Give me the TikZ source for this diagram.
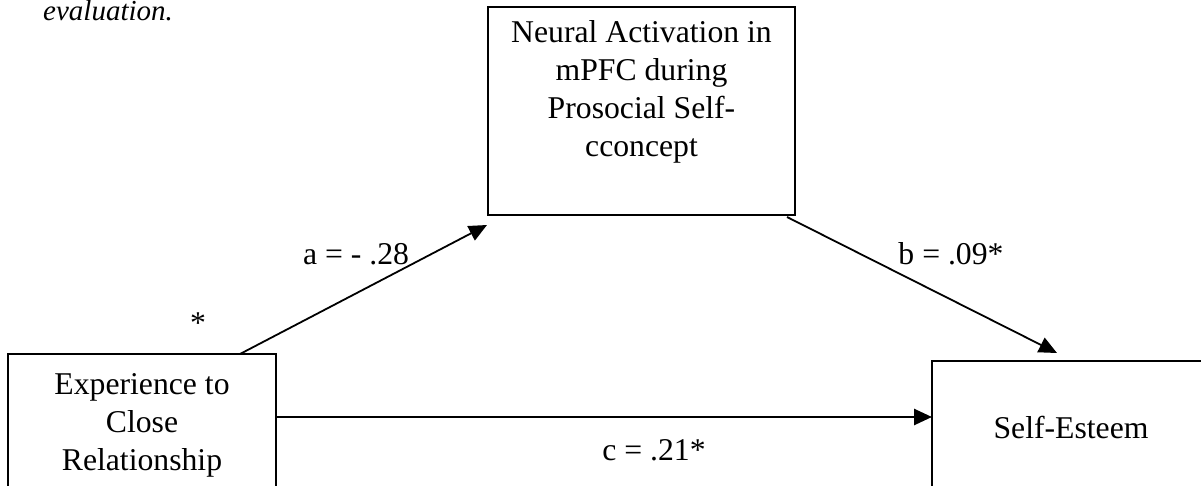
\documentclass[tikz,border=0pt]{standalone}
\usepackage{fontspec}
\setmainfont{Liberation Serif}
\usetikzlibrary{arrows.meta}
\tikzset{
  boxshape/.style={draw, line width=2.2pt, rectangle, inner sep=0pt, outer sep=0pt},
  boxtext/.style={font=\fontsize{31.7pt}{38pt}\selectfont, align=center, inner sep=0pt},
  lbl/.style={font=\fontsize{31.7pt}{38pt}\selectfont, inner sep=0pt, anchor=base},
  arr/.style={-{Triangle[length=18pt,width=16pt]}},
}
\begin{document}
\begin{tikzpicture}[x=1pt,y=-1pt]
\useasboundingbox (0,0) rectangle (1201,486);
\clip (0,0) rectangle (1201,486);
% caption fragment
\node[inner sep=0pt, anchor=base west, font=\fontsize{29pt}{34pt}\selectfont\itshape] (cap) at (43,21) {evaluation.};
% boxes
\node[boxshape, minimum width=307pt, minimum height=208pt] (top) at (641.5,111) {};
\node[boxshape, minimum width=268pt, minimum height=156pt] (left) at (142,432) {};
\node[boxshape, minimum width=278pt, minimum height=150pt] (right) at (1071,436) {};
% box texts
\node[boxtext, anchor=north] (toptxt) at ([yshift=-13pt]top.north) {Neural Activation in\\mPFC during\\Prosocial Self-\\cconcept};
\node[boxtext, anchor=north] (lefttxt) at ([yshift=-19pt]left.north) {Experience to\\Close\\Relationship};
\node[lbl] (righttxt) at (1071,438) {Self-Esteem};
% connector end points
\coordinate (aS) at ([xshift=232pt]left.north west);
\coordinate (aE) at ([xshift=-1pt,yshift=-10pt]top.south west);
\coordinate (bS) at ([xshift=-8pt,yshift=-2pt]top.south east);
\coordinate (bE) at ([xshift=125pt,yshift=8pt]right.north west);
\coordinate (cS) at ([yshift=-63pt]left.north east);
\coordinate (cE) at ([yshift=-56pt]right.north west);
\draw[arr, line width=1.8pt] (aS) -- (aE);
\draw[arr, line width=1.8pt] (bS) -- (bE);
\draw[arr, line width=2.6pt] (cS) -- (cE);
% labels
\node[lbl] (la) at (356,265) {a = - .28};
\node[lbl] (ls) at (198,333) {*};
\node[lbl] (lb) at (951,265) {b = .09*};
\node[lbl] (lc) at (654,460) {c = .21*};
\end{tikzpicture}
\end{document}
